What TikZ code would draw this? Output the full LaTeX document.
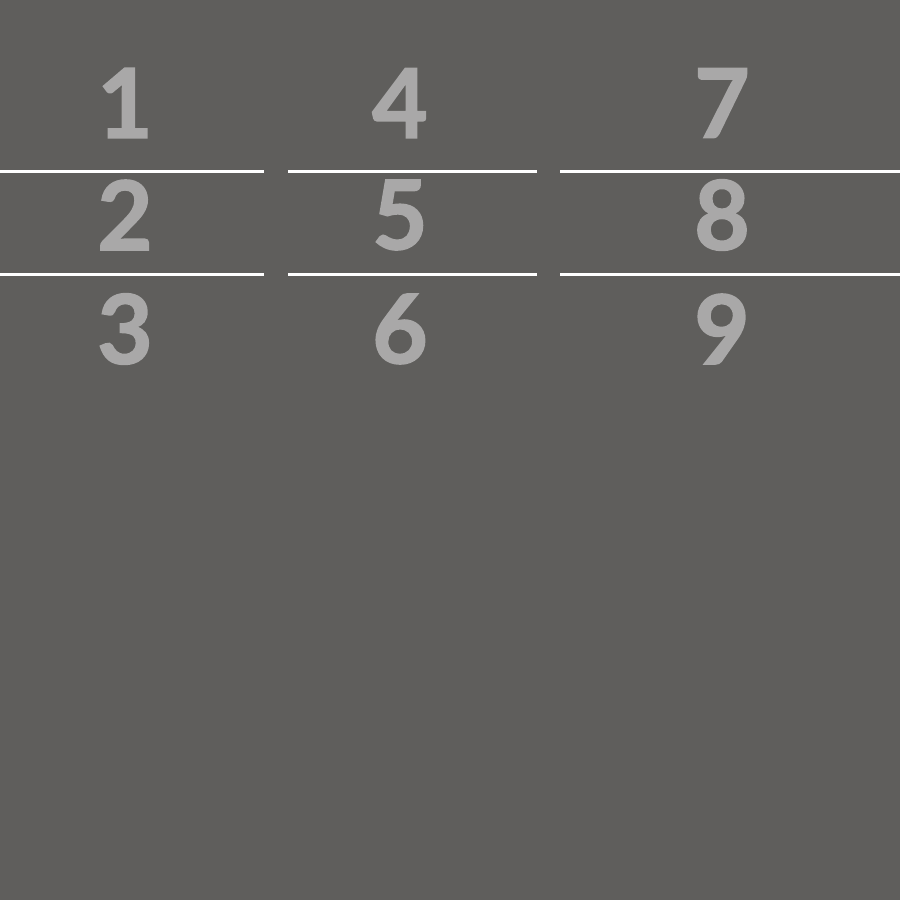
\documentclass[tikz,border=0pt]{standalone}
\usepackage{fontspec}
\newfontfamily\digitfont{Lato}[BoldFeatures={FakeBold=1.6}]
\definecolor{bgcol}{HTML}{5F5E5C}
\definecolor{digitcol}{HTML}{A9A8A8}
\tikzset{
  digit/.style={text=digitcol, font=\digitfont\bfseries\fontsize{96}{96}\selectfont, inner sep=0pt, anchor=center},
  rule/.style={white, line width=3pt}
}
\begin{document}
\begin{tikzpicture}[x=1pt,y=-1pt]
    % background
    \fill[bgcol] (0,0) rectangle (900,900);
    \useasboundingbox (0,0) rectangle (900,900);

    % digits
    \node[digit] (n1) at (125,103) {1};
    \node[digit] (n2) at (125,215) {2};
    \node[digit] (n3) at (125,329) {3};
    \node[digit] (n4) at (400,103) {4};
    \node[digit] (n5) at (400,215) {5};
    \node[digit] (n6) at (400,329) {6};
    \node[digit] (n7) at (722,103) {7};
    \node[digit] (n8) at (722,215) {8};
    \node[digit] (n9) at (722,329) {9};

    % rules
    \draw[rule] (0,171) -- (264,171);
    \draw[rule] (288,171) -- (537,171);
    \draw[rule] (560,171) -- (900,171);
    \draw[rule] (0,274) -- (264,274);
    \draw[rule] (288,274) -- (537,274);
    \draw[rule] (560,274) -- (900,274);

\end{tikzpicture}
\end{document}
